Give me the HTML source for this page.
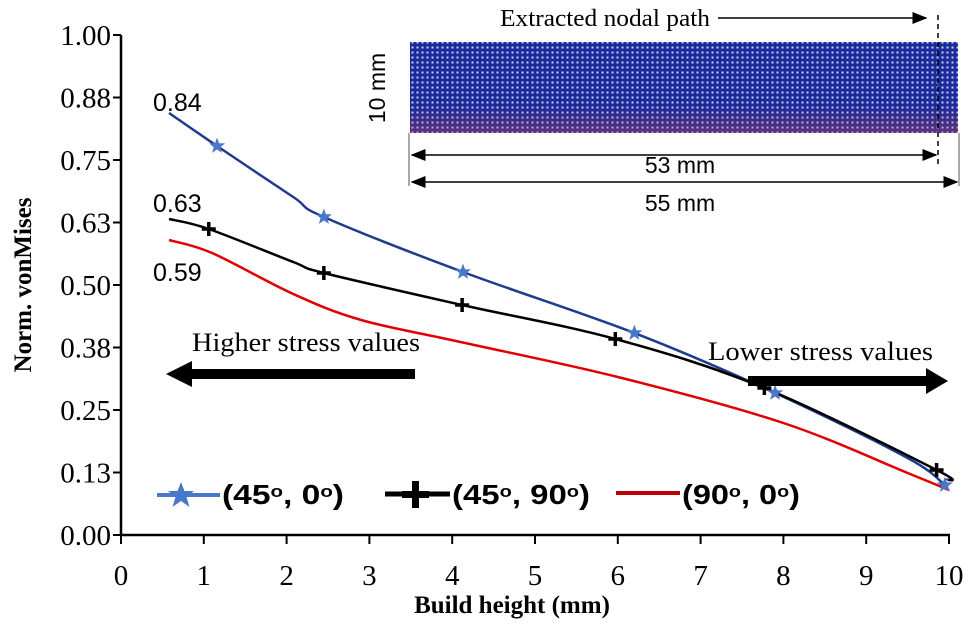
<!DOCTYPE html>
<html><head><meta charset="utf-8"><style>
body{margin:0;background:#fff}
svg{display:block}
.t{font-family:"Liberation Serif",serif}
.s{font-family:"Liberation Sans",sans-serif}
</style></head><body>
<svg id="c" width="968" height="629" viewBox="0 0 968 629">
<defs>
<pattern id="mesh" width="5" height="5" patternUnits="userSpaceOnUse"><rect width="5" height="5" fill="#1a2a9a"/><rect x="1.5" y="1.5" width="2" height="2" fill="#c8cdf0"/></pattern>
<linearGradient id="red" x1="0" y1="0" x2="0" y2="1"><stop offset="0.7" stop-color="#c03040" stop-opacity="0"/><stop offset="1" stop-color="#d04050" stop-opacity="0.35"/></linearGradient>
<marker id="ah" markerWidth="10" markerHeight="8" refX="9" refY="4" orient="auto"><path d="M0,0 L10,4 L0,8z" fill="#000"/></marker>
<marker id="ah2" markerWidth="10" markerHeight="8" refX="1" refY="4" orient="auto"><path d="M10,0 L0,4 L10,8z" fill="#000"/></marker>
</defs>
<g id="axes"></g>
<g id="series"></g>
<g>
<rect x="410" y="42" width="548" height="91" fill="url(#mesh)"/>
<rect x="410" y="42" width="548" height="91" fill="url(#red)"/>
<line x1="938" y1="15" x2="938" y2="168" stroke="#000" stroke-width="1.5" stroke-dasharray="5,4"/>
<line x1="409" y1="133" x2="409" y2="186" stroke="#555" stroke-width="1"/>
<line x1="959" y1="133" x2="959" y2="186" stroke="#555" stroke-width="1"/>
<line x1="412" y1="155" x2="936" y2="155" stroke="#000" stroke-width="1.5" marker-end="url(#ah)" marker-start="url(#ah2)"/>
<line x1="412" y1="182" x2="957" y2="182" stroke="#000" stroke-width="1.5" marker-end="url(#ah)" marker-start="url(#ah2)"/>
<text class="s" x="680" y="173" font-size="23" text-anchor="middle">53 mm</text>
<text class="s" x="680" y="211" font-size="23" text-anchor="middle">55 mm</text>
<text class="s" x="0" y="0" font-size="23" text-anchor="middle" transform="translate(385,88) rotate(-90)">10 mm</text>
<text class="t" x="500" y="26" font-size="24" textLength="210" lengthAdjust="spacingAndGlyphs">Extracted nodal path</text>
<line x1="718" y1="18" x2="926" y2="18" stroke="#000" stroke-width="1.5" marker-end="url(#ah)"/>
</g>
<g>
<text class="t" x="192" y="351" font-size="26" textLength="228" lengthAdjust="spacingAndGlyphs">Higher stress values</text>
<path d="M415,369 L192,369 L192,361 L166,374 L192,387 L192,379 L415,379z" fill="#000"/>
<text class="t" x="708" y="360" font-size="26" textLength="225" lengthAdjust="spacingAndGlyphs">Lower stress values</text>
<path d="M748,376 L926,376 L926,368 L948,381 L926,394 L926,386 L748,386z" fill="#000"/>
<text class="s" x="153" y="111" font-size="25">0.84</text>
<text class="s" x="153" y="212" font-size="25">0.63</text>
<text class="s" x="153" y="281" font-size="25">0.59</text>
</g>
<g font-family="Liberation Sans Narrow, Liberation Sans, sans-serif" font-weight="bold" font-size="28">
<g>
<line x1="157" y1="495" x2="220" y2="495" stroke="#4a78c8" stroke-width="4"/>
<path d="M181,482 L184.5,491 L194,491 L186.5,497 L189.5,507 L181,501 L172.5,507 L175.5,497 L168,491 L177.5,491z" fill="#4a78c8"/>
<text x="222" y="504" textLength="122" lengthAdjust="spacingAndGlyphs">(45<tspan font-size="17" dy="-7">o</tspan><tspan dy="7">, 0</tspan><tspan font-size="17" dy="-7">o</tspan><tspan dy="7">)</tspan></text></g>
<g>
<line x1="385" y1="494" x2="450" y2="494" stroke="#000" stroke-width="5"/>
<path d="M412,481 h7 v10 h10 v7 h-10 v10 h-7 v-10 h-10 v-7 h10z" fill="#000"/>
<text x="452" y="504" textLength="138" lengthAdjust="spacingAndGlyphs">(45<tspan font-size="17" dy="-7">o</tspan><tspan dy="7">, 90</tspan><tspan font-size="17" dy="-7">o</tspan><tspan dy="7">)</tspan></text></g>
<g>
<line x1="616" y1="493" x2="680" y2="493" stroke="#c00000" stroke-width="4"/>
<text x="682" y="504" textLength="118" lengthAdjust="spacingAndGlyphs">(90<tspan font-size="17" dy="-7">o</tspan><tspan dy="7">, 0</tspan><tspan font-size="17" dy="-7">o</tspan><tspan dy="7">)</tspan></text></g>
</g>
</svg>
<script>
const xTicks=[0,1,2,3,4,5,6,7,8,9,10];
const yTicks=[0,0.125,0.25,0.375,0.5,0.625,0.75,0.875,1.0];
const yTickLabels=["0.00","0.13","0.25","0.38","0.50","0.63","0.75","0.88","1.00"];
const blueX=[0.58,1.16,2.08,2.45,4.13,6.2,7.9,9.5,9.95];
const blueY=[0.844,0.778,0.676,0.636,0.526,0.404,0.284,0.154,0.10];
const blueMarkX=[1.16,2.45,4.13,6.2,7.9,9.95];
const blueMarkY=[0.778,0.636,0.526,0.404,0.284,0.10];
const blackX=[0.58,1.06,2.08,2.45,4.12,5.97,7.77,9.85,9.97];
const blackY=[0.632,0.612,0.546,0.524,0.46,0.392,0.294,0.13,0.11];
const blackMarkX=[1.06,2.45,4.12,5.97,7.77,9.85];
const blackMarkY=[0.612,0.524,0.46,0.392,0.294,0.13];
const redX=[0.58,1.1,2.08,2.9,4.1,6.0,8.0,9.5,10.0];
const redY=[0.59,0.564,0.482,0.43,0.386,0.316,0.224,0.124,0.09];
const X=v=>121+v*82.8, Y=v=>535-v*500;
const NS="http://www.w3.org/2000/svg";
function mk(tag,attrs,parent){const e=document.createElementNS(NS,tag);for(const k in attrs)e.setAttribute(k,attrs[k]);parent.appendChild(e);return e;}
const ax=document.getElementById('axes'), se=document.getElementById('series');
let e=mk('line',{x1:121,y1:35,x2:121,y2:535,stroke:'#000','stroke-width':2.5},ax);


e=mk('line',{x1:121,y1:535,x2:950,y2:535,stroke:'#000','stroke-width':2.5},ax);


yTicks.forEach((v,i)=>{
  mk('line',{x1:113,x2:121,y1:Y(v),y2:Y(v),stroke:'#000','stroke-width':2},ax);
  const t=mk('text',{x:111,y:Y(v)+10,'text-anchor':'end','font-size':29,class:'t'},ax);
  t.textContent=yTickLabels[i];
  
  
});
xTicks.forEach(v=>{
  mk('line',{x1:X(v),x2:X(v),y1:535,y2:544,stroke:'#000','stroke-width':2},ax);
  const t=mk('text',{x:X(v),y:585,'text-anchor':'middle','font-size':29,class:'t'},ax);
  t.textContent=v;
  
  
});
let tt=mk('text',{x:512,y:613,'text-anchor':'middle','font-size':25,'font-weight':'bold',class:'t'},ax);
tt.textContent='Build height (mm)';


tt=mk('text',{x:0,y:0,'text-anchor':'middle','font-size':25,'font-weight':'bold',class:'t',transform:'translate(31,285) rotate(-90)'},ax);
tt.textContent='Norm. vonMises';


function smooth(xs,ys){
  const p=xs.map((x,i)=>[X(x),Y(ys[i])]);
  let d='M'+p[0][0]+','+p[0][1];
  for(let i=0;i<p.length-1;i++){
    const p0=p[Math.max(i-1,0)],p1=p[i],p2=p[i+1],p3=p[Math.min(i+2,p.length-1)];
    const c1=[p1[0]+(p2[0]-p0[0])/6,p1[1]+(p2[1]-p0[1])/6];
    const c2=[p2[0]-(p3[0]-p1[0])/6,p2[1]-(p3[1]-p1[1])/6];
    d+=` C${c1[0]},${c1[1]} ${c2[0]},${c2[1]} ${p2[0]},${p2[1]}`;
  }
  return d;
}
e=mk('path',{d:smooth(redX,redY),fill:'none',stroke:'#e00000','stroke-width':2.5},se);


e=mk('path',{d:smooth(blueX,blueY),fill:'none',stroke:'#1f3c8c','stroke-width':2.5},se);


e=mk('path',{d:smooth(blackX,blackY),fill:'none',stroke:'#000','stroke-width':2.5},se);


blueMarkX.forEach((x,i)=>{
  const cx=X(x),cy=Y(blueMarkY[i]);
  let pts=[];for(let k=0;k<10;k++){const r=k%2?3.5:8.5,a=-Math.PI/2+k*Math.PI/5;pts.push((cx+r*Math.cos(a)).toFixed(1)+','+(cy+r*Math.sin(a)).toFixed(1));}
  const m=mk('polygon',{points:pts.join(' '),fill:'#4a78c8'},se);
  
  
});
blackMarkX.forEach((x,i)=>{
  const cx=X(x),cy=Y(blackMarkY[i]);
  const m=mk('path',{d:`M${cx-7},${cy} H${cx+7} M${cx},${cy-7} V${cy+7}`,stroke:'#000','stroke-width':3.5},se);
  
  
});
</script>
</body></html>
